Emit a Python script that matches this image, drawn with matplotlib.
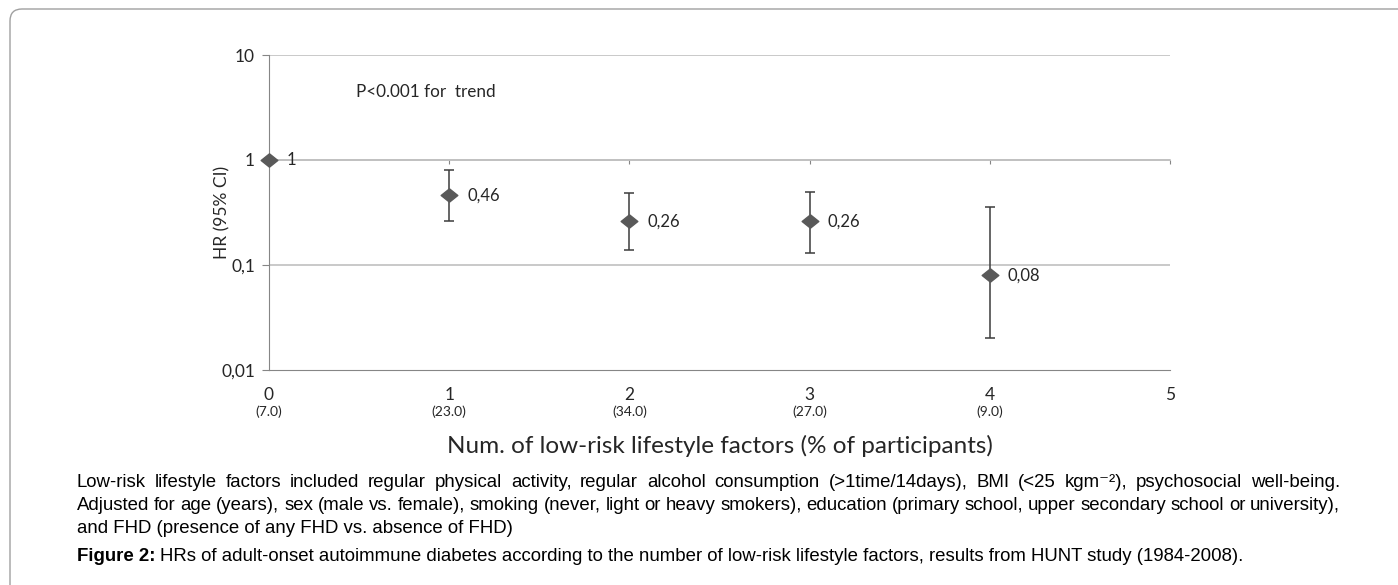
import numpy as np
import matplotlib
matplotlib.use("Agg")
import matplotlib.pyplot as plt
from matplotlib.patches import FancyBboxPatch
from matplotlib.path import Path

# Dados
n_fatores = [0, 1, 2, 3, 4]
hr = [1, 0.46, 0.26, 0.26, 0.08]
ic_baixo = [1, 0.26, 0.14, 0.13, 0.02]
ic_alto = [1, 0.80, 0.48, 0.50, 0.36]
pct_participantes = ['(7.0)', '(23.0)', '(34.0)', '(27.0)', '(9.0)']
xticks = [0, 1, 2, 3, 4, 5]
yticks = [0.01, 0.1, 1, 10]
ytick_labels = ['0,01', '0,1', '1', '10']

W, H = 1398, 585
fig = plt.figure(figsize=(W / 100, H / 100), dpi=100)
fonte = 'Lato'
cinza_eixo = '#868686'
cinza_grade = '#c0c0c0'
cor_texto = '#262626'

# moldura arredondada
moldura = FancyBboxPatch((0.10, -1.0), 15, 5.76 + 1.0, boxstyle='round,pad=0,rounding_size=0.12',
                         transform=fig.dpi_scale_trans, fc='none', ec='#a0a0a0', lw=1.0,
                         zorder=-5)
fig.patches.append(moldura)

ax = fig.add_axes([269 / W, 1 - 370 / H, (1170 - 269) / W, (370 - 55) / H])
ax.set_yscale('log')
ax.set_xlim(0, 5)
ax.set_ylim(0.01, 10)
ax.patch.set_alpha(0)

# grade horizontal
for v in yticks[1:]:
    ax.axhline(v, color=cinza_grade, lw=1.2, zorder=0)

ax.spines['right'].set_visible(False)
ax.spines['left'].set_color(cinza_eixo)
ax.spines['bottom'].set_color(cinza_eixo)
ax.spines['top'].set_position(('data', 1))
ax.spines['top'].set_color(cinza_grade)
ax.spines['top'].set_linewidth(1.2)

ax.set_yticks(yticks, labels=ytick_labels)
ax.yaxis.set_minor_locator(matplotlib.ticker.NullLocator())
ax.tick_params(axis='y', direction='out', length=5, color=cinza_eixo, pad=5,
               labelsize=12.5, labelcolor=cor_texto)
for t in ax.get_yticklabels():
    t.set_family(fonte)

ax.set_xticks(xticks, labels=[str(v) for v in xticks])
ax.tick_params(axis='x', bottom=False, top=True, labelbottom=True, labeltop=False,
               direction='in', length=3, color=cinza_eixo, pad=12,
               labelsize=12.5, labelcolor=cor_texto)
for t in ax.get_xticklabels():
    t.set_family(fonte)

for x, p in zip(n_fatores, pct_participantes):
    ax.annotate(p, xy=(x, 0), xycoords=('data', 'axes fraction'), xytext=(0, -30),
                textcoords='offset points', ha='center', va='center',
                fontsize=10, family=fonte, color=cor_texto)

# barras de erro
xs = np.array(n_fatores[1:])
ys = np.array(hr[1:])
err = [ys - np.array(ic_baixo[1:]), np.array(ic_alto[1:]) - ys]
ax.errorbar(xs, ys, yerr=err, fmt='none', ecolor='#3c3c3c', elinewidth=1.1,
            capsize=3.6, capthick=1.1, zorder=3, clip_on=False)

diamante = Path([(-1, 0), (0, -0.8), (1, 0), (0, 0.8), (-1, 0)],
                [Path.MOVETO, Path.LINETO, Path.LINETO, Path.LINETO, Path.CLOSEPOLY])
ax.plot(n_fatores, hr, linestyle='none', marker=diamante, markersize=12,
        color='#595959', zorder=4, clip_on=False)

for x, v in zip(n_fatores, hr):
    ax.annotate(f'{v:g}'.replace('.', ','), xy=(x, v), xytext=(13, 0),
                textcoords='offset points', va='center', ha='left',
                fontsize=12, family=fonte, color=cor_texto)

ax.text(0.0962, 0.883, 'P<0.001 for  trend', transform=ax.transAxes, va='center',
        ha='left', fontsize=12.3, family=fonte, color=cor_texto)

ax.set_ylabel('HR (95% CI)', fontsize=12.5, family=fonte, color=cor_texto)
ax.yaxis.set_label_coords(-0.043, 0.5)
ax.set_xlabel('Num. of low-risk lifestyle factors (% of participants)', fontsize=17.5,
              family=fonte, color=cor_texto)
ax.xaxis.set_label_coords(0.5, -0.205)

# legenda da figura (texto justificado)
fam_leg = ['Liberation Sans', 'DejaVu Sans']
tam_leg = 13.4
r = fig.canvas.get_renderer()


def justificar(texto, y_base, x0, x1):
    palavras = texto.split(' ')
    ts = [fig.text(0, 1 - y_base / H, p, fontsize=tam_leg, family=fam_leg, va='baseline')
          for p in palavras]
    larg = [t.get_window_extent(r).width for t in ts]
    gap = (x1 - x0 - sum(larg)) / (len(palavras) - 1)
    x = x0
    for t, w in zip(ts, larg):
        t.set_x(x / W)
        x += w + gap


x_esq, x_dir = 77, 1340
justificar('Low-risk lifestyle factors included regular physical activity, regular alcohol '
           'consumption (>1time/14days), BMI (<25 kgm\u207b\u00b2), psychosocial well-being.',
           487, x_esq, x_dir)
justificar('Adjusted for age (years), sex (male vs. female), smoking (never, light or heavy '
           'smokers), education (primary school, upper secondary school or university),',
           510, x_esq, x_dir)
fig.text(x_esq / W, 1 - 533 / H, 'and FHD (presence of any FHD vs. absence of FHD)',
         fontsize=tam_leg, family=fam_leg, va='baseline')

tb = fig.text(x_esq / W, 1 - 561 / H, 'Figure 2:', fontsize=tam_leg, family=fam_leg,
              weight='bold', va='baseline')
wb = tb.get_window_extent(r).width
fig.text((x_esq + wb + 4) / W, 1 - 561 / H,
         'HRs of adult-onset autoimmune diabetes according to the number of low-risk '
         'lifestyle factors, results from HUNT study (1984-2008).',
         fontsize=tam_leg, family=fam_leg, va='baseline')

fig.savefig('out.png', dpi=100)
